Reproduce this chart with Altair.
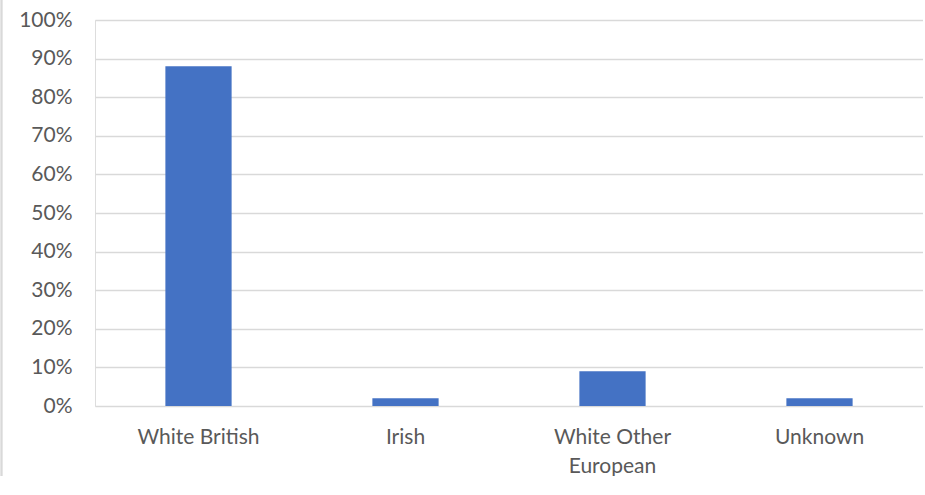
import altair as alt
import pandas as pd

categories = ["White British", "Irish", "White Other European", "Unknown"]
values = [0.88, 0.02, 0.09, 0.02]

df = pd.DataFrame({"category": categories, "value": values})

FONT = "Lato"
TEXT = "#595959"
GRID = "#d9d9d9"

bars = alt.Chart(df).mark_bar(color="#4472c4").encode(
    x=alt.X(
        "category:N",
        sort=categories,
        scale=alt.Scale(paddingInner=0.68, paddingOuter=0.34),
        axis=alt.Axis(
            title=None,
            labelAngle=0,
            ticks=False,
            domain=False,
            labelFont=FONT,
            labelFontSize=21,
            labelColor=TEXT,
            labelPadding=31,
            labelBaseline="middle",
            labelLineHeight=29,
            labelExpr="datum.value == 'White Other European' ? ['White Other', 'European'] : datum.value",
        ),
    ),
    y=alt.Y(
        "value:Q",
        scale=alt.Scale(domain=[0, 1], nice=False),
        axis=alt.Axis(
            title=None,
            format=".0%",
            values=[i / 10 for i in range(11)],
            ticks=False,
            domain=False,
            grid=True,
            gridColor=GRID,
            gridWidth=1.5,
            labelFont=FONT,
            labelFontSize=21,
            labelColor=TEXT,
            labelPadding=23,
        ),
    ),
)

border = alt.Chart(df).mark_rule(color=GRID, strokeWidth=1.5).encode(
    x=alt.value(-93.5), y=alt.value(-20), y2=alt.value(470)
)

chart = alt.layer(bars, border).properties(
    width=828,
    height=386,
    autosize=alt.AutoSizeParams(type="none"),
    padding={"left": 95, "top": 20, "right": 0, "bottom": 70},
).configure_view(stroke=None).configure(background="white")

chart.save("out.html", embed_options={"renderer": "svg", "actions": False})
